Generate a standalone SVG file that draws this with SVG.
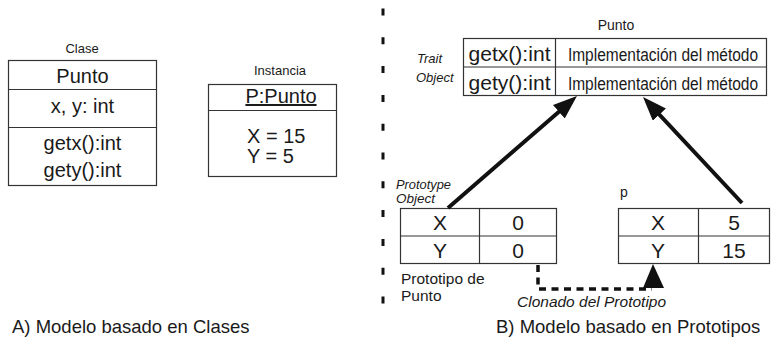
<svg xmlns="http://www.w3.org/2000/svg" width="773" height="347" viewBox="0 0 773 347">
<defs>
<style>
text{font-family:"Liberation Sans",Arial,sans-serif;fill:#1a1a1a}
.box{fill:#fff;stroke:#333;stroke-width:1.2}
.ln{stroke:#333;stroke-width:1.2;fill:none}
.c{text-anchor:middle}
.it{font-style:italic}
.arr{stroke:#111;stroke-width:4;fill:none;marker-end:url(#ah)}
.dash{stroke:#111;stroke-width:3.5;fill:none;stroke-dasharray:7 5.5}
</style>
<marker id="ah" markerUnits="userSpaceOnUse" markerWidth="26" markerHeight="20" refX="12" refY="9" orient="auto">
<path d="M0,0 L24,9 L0,18 z" fill="#111"/>
</marker>
</defs>
<rect width="773" height="347" fill="#fff"/>

<g id="clase">
<text x="82" y="53" class="c" font-size="13">Clase</text>
<rect class="box" x="8.5" y="60.5" width="148" height="125"/>
<line class="ln" x1="8.5" y1="89.5" x2="156.5" y2="89.5"/>
<line class="ln" x1="8.5" y1="127.5" x2="156.5" y2="127.5"/>
<text x="82.5" y="83" class="c" font-size="20">Punto</text>
<text x="82.5" y="113" class="c" font-size="20">x, y: int</text>
<text x="82.5" y="150" class="c" font-size="20">getx():int</text>
<text x="82.5" y="177" class="c" font-size="20">gety():int</text>
</g>

<g id="instancia">
<text x="280" y="75" class="c" font-size="13">Instancia</text>
<rect class="box" x="208.5" y="84.5" width="128" height="92"/>
<line class="ln" x1="208.5" y1="110.5" x2="336.5" y2="110.5"/>
<text x="281" y="103" class="c" font-size="20" text-decoration="underline">P:Punto</text>
<text x="247" y="143" font-size="20">X = 15</text>
<text x="247" y="163" font-size="20">Y = 5</text>
</g>

<g id="divisor">
<line x1="383" y1="8.5" x2="383" y2="306" stroke="#111" stroke-width="3" stroke-dasharray="7 21.8"/>
</g>

<g id="trait">
<text x="616" y="30" class="c" font-size="14">Punto</text>
<text x="417" y="63" class="it" font-size="13">Trait</text>
<text x="416" y="82" class="it" font-size="13">Object</text>
<rect class="box" x="463.5" y="38.5" width="303" height="57"/>
<line class="ln" x1="463.5" y1="67" x2="766.5" y2="67"/>
<line class="ln" x1="555.5" y1="38.5" x2="555.5" y2="95.5"/>
<text x="509.5" y="61" class="c" font-size="21" textLength="82" lengthAdjust="spacingAndGlyphs">getx():int</text>
<text x="509.5" y="90" class="c" font-size="21" textLength="82" lengthAdjust="spacingAndGlyphs">gety():int</text>
<text transform="translate(663,61) scale(1,1.22)" class="c" font-size="15.5">Implementación del método</text>
<text transform="translate(663,90) scale(1,1.22)" class="c" font-size="15.5">Implementación del método</text>
</g>

<g id="prototipo">
<text x="396" y="189" class="it" font-size="13.5" textLength="55" lengthAdjust="spacingAndGlyphs">Prototype</text>
<text x="396" y="203" class="it" font-size="13.5">Object</text>
<rect class="box" x="400.5" y="208.5" width="156" height="55"/>
<line class="ln" x1="400.5" y1="236" x2="556.5" y2="236"/>
<line class="ln" x1="479.5" y1="208.5" x2="479.5" y2="263.5"/>
<text x="440" y="230" class="c" font-size="21">X</text>
<text x="518" y="230" class="c" font-size="21">0</text>
<text x="440" y="258" class="c" font-size="21">Y</text>
<text x="518" y="258" class="c" font-size="21">0</text>
<text x="401" y="284" font-size="15.5">Prototipo de</text>
<text x="401" y="301" font-size="15.5">Punto</text>
</g>

<g id="p">
<text x="620" y="197" font-size="14">p</text>
<rect class="box" x="618.5" y="208.5" width="151" height="55"/>
<line class="ln" x1="618.5" y1="236" x2="769.5" y2="236"/>
<line class="ln" x1="698.5" y1="208.5" x2="698.5" y2="263.5"/>
<text x="658" y="230" class="c" font-size="21">X</text>
<text x="734" y="230" class="c" font-size="21">5</text>
<text x="658" y="258" class="c" font-size="21">Y</text>
<text x="734" y="258" class="c" font-size="21">15</text>
</g>

<g id="connectors">
<line class="arr" x1="448" y1="208" x2="567.9" y2="103.9"/>
<line class="arr" x1="742" y1="203" x2="651.2" y2="105.8"/>
<path class="dash" d="M538,265 V289 H652"/>
<polygon points="653,264 643,288 664,288" fill="#111"/>
<text x="517" y="307" class="it" font-size="15.5">Clonado del Prototipo</text>
</g>

<g id="titulos">
<text x="12" y="333" font-size="18.5">A) Modelo basado en Clases</text>
<text x="496" y="333" font-size="18.5">B) Modelo basado en Prototipos</text>
</g>
</svg>
